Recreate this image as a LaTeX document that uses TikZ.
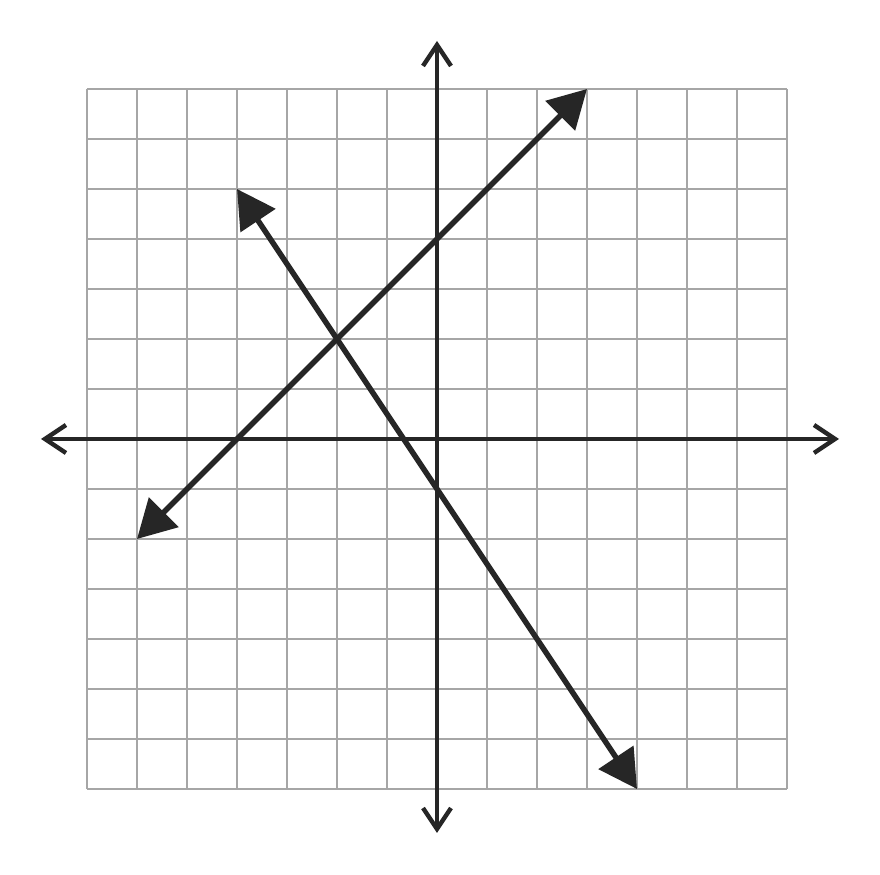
\documentclass[tikz,border=0pt]{standalone}
\usepackage{tikz}
\usetikzlibrary{arrows,arrows.meta}
\usetikzlibrary{backgrounds,calc,positioning}
\tikzset{
    gridG/.style={color=gray!70, line width=1.2pt},
    axisA/.style={color=black!85, line width=2.5pt, {Straight Barb[length=4.2mm,width=5.6mm,line width=2.5pt]}-{Straight Barb[length=4.2mm,width=5.6mm,line width=2.5pt]}},
    lineL/.style={color=black!85, line width=3.1pt, {Triangle[length=7.6mm,width=8.2mm]}-{Triangle[length=7.6mm,width=8.2mm]}}
}

\begin{document}
\begin{tikzpicture}
    \def \N {7}
    \useasboundingbox[fill=white] (-8.74,-8.72) rectangle (8.86,8.78);
    %grid
    \foreach \s in {-\N,...,\N}{
    \draw[gridG] (\s,-\N) -- (\s,\N);
    \draw[gridG] (-\N,\s) -- (\N,\s);}
    \coordinate (xl) at (-7.92, 0);
    \coordinate (xr) at (8.04, 0);
    \coordinate (yb) at (0, -7.88);
    \coordinate (yt) at (0, 7.96);
    \coordinate (p1) at (-6, -2);
    \coordinate (p2) at (3, 7);
    \coordinate (q1) at (-4, 5);
    \coordinate (q2) at (4, -7);
    \draw[axisA] (xl) -- (xr);
    \draw[axisA] (yb) -- (yt);
    \draw[lineL] (p1) -- (p2);
    \draw[lineL] (q1) -- (q2);
\end{tikzpicture}
\end{document}
